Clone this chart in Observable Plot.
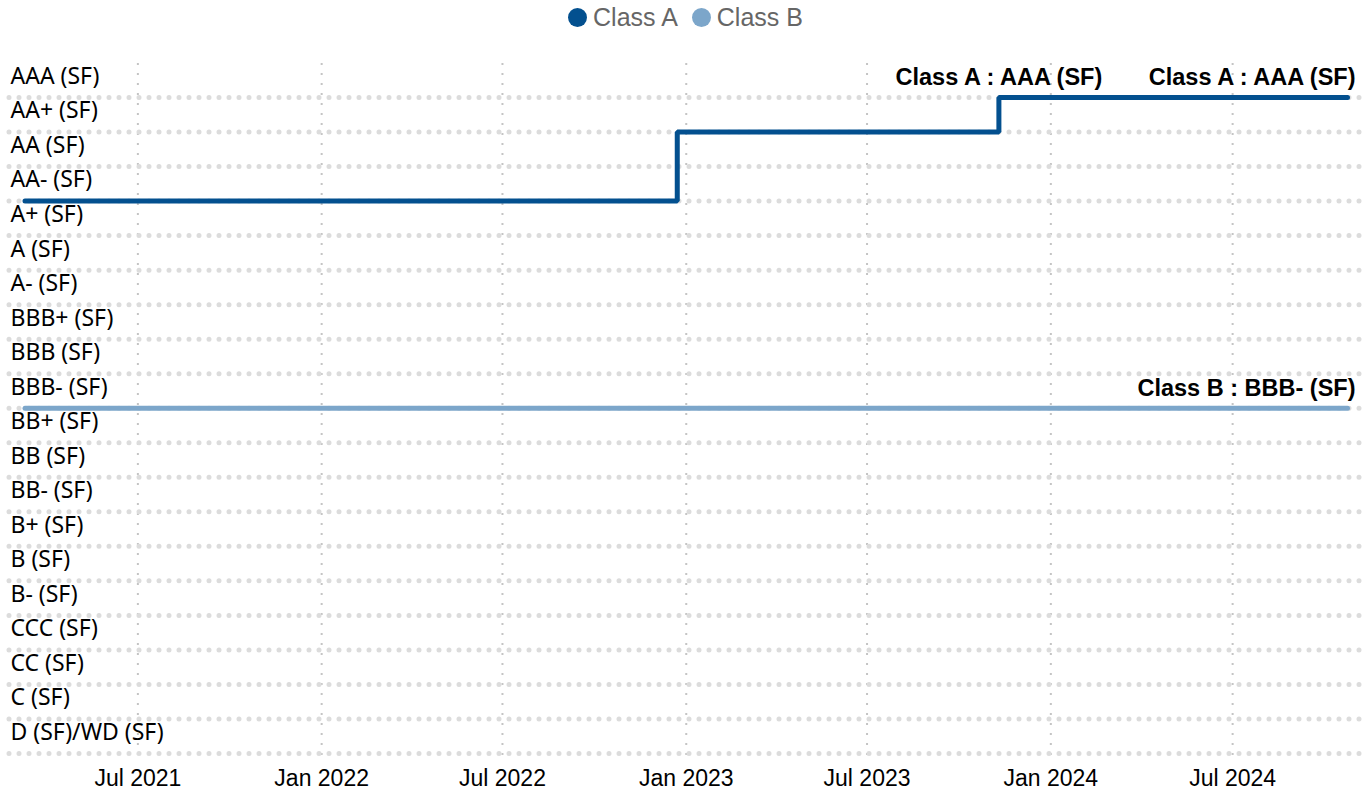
<!DOCTYPE html>
<html>
<head>
<meta charset="utf-8">
<script src="https://cdn.jsdelivr.net/npm/d3@7"></script>
<script src="https://cdn.jsdelivr.net/npm/@observablehq/plot@0.6"></script>
<style>
  html, body { margin: 0; padding: 0; background: #fff; overflow: hidden; }
  #legend { height: 35px; display: flex; justify-content: center; align-items: center;
    font-family: "Liberation Sans", Arial, sans-serif; font-size: 25px; color: #666; }
  #legend .item { display: flex; align-items: center; margin: 0 7px; }
  #legend .dot { width: 19px; height: 19px; border-radius: 50%; margin-right: 6px; display: inline-block; }
  #chart svg { display: block; max-width: none; }
</style>
</head>
<body>
<div id="legend"></div>
<div id="chart"></div>
<script>
// Rating scale (top to bottom)
const ratings = ["AAA (SF)", "AA+ (SF)", "AA (SF)", "AA- (SF)", "A+ (SF)", "A (SF)", "A- (SF)",
  "BBB+ (SF)", "BBB (SF)", "BBB- (SF)", "BB+ (SF)", "BB (SF)", "BB- (SF)", "B+ (SF)", "B (SF)",
  "B- (SF)", "CCC (SF)", "CC (SF)", "C (SF)", "D (SF)/WD (SF)"];

const seriesNames = ["Class A", "Class B"];
const seriesColors = ["#03508f", "#7ca6ca"];

// Class A rating history
const classADates = ["2021-03-10", "2022-12-23", "2023-11-10", "2024-10-24"];
const classARatings = ["AA- (SF)", "AA+ (SF)", "AAA (SF)", "AAA (SF)"];
// Class B rating history
const classBDates = ["2021-03-10", "2024-10-24"];
const classBRatings = ["BBB- (SF)", "BBB- (SF)"];

// X tick labels
const tickDates = ["2021-07-01", "2022-01-01", "2022-07-01", "2023-01-01", "2023-07-01", "2024-01-01", "2024-07-01"];

const parse = d3.utcParse("%Y-%m-%d");
const rows = [
  ...classADates.map((d, i) => ({series: "Class A", date: parse(d), rating: classARatings[i]})),
  ...classBDates.map((d, i) => ({series: "Class B", date: parse(d), rating: classBRatings[i]}))
];
const ticks = tickDates.map(parse);

// Data labels
const labelMid = [{date: parse(classADates[2]), rating: classARatings[2], text: "Class A : " + classARatings[2]}];
const labelEnd = [
  {date: parse(classADates[3]), rating: classARatings[3], text: "Class A : " + classARatings[3]},
  {date: parse(classBDates[1]), rating: classBRatings[1], text: "Class B : " + classBRatings[1]}
];

// Legend
const legend = document.getElementById("legend");
seriesNames.forEach((n, i) => {
  const it = document.createElement("span");
  it.className = "item";
  it.innerHTML = `<span class="dot" style="background:${seriesColors[i]}"></span>${n}`;
  legend.appendChild(it);
});

const boldFont = '"Liberation Sans", Arial, sans-serif';

const chart = Plot.plot({
  width: 1371,
  height: 757,
  marginLeft: 9,
  marginRight: 5,
  marginTop: 28,
  marginBottom: 34,
  style: {background: "#fff", color: "#000", maxWidth: "none"},
  x: {type: "utc", domain: [parse(classADates[0]), parse(classADates[3])], range: [24.5, 1347]},
  y: {type: "point", domain: ratings, range: [62, 718], padding: 0, round: false, axis: null},
  color: {domain: seriesNames, range: seriesColors},
  marks: [
    Plot.ruleX(ticks, {x: d => d, stroke: "#c4c4c4", strokeWidth: 2, strokeDasharray: "2 8"}),
    Plot.ruleY(ratings, {y: d => d, stroke: "#dcdcdc", strokeWidth: 5, strokeDasharray: "0 10", strokeLinecap: "round"}),
    Plot.text(ratings, {y: d => d, text: d => d, frameAnchor: "left", textAnchor: "start", dx: 1, dy: -21,
      fontSize: 23, fontFamily: '"Noto Sans", sans-serif', fill: "#000"}),
    Plot.axisX({ticks: ticks, tickFormat: d3.utcFormat("%b %Y"), tickSize: 0, tickPadding: 11,
      fontSize: 23, fontFamily: boldFont, fill: "#000"}),
    Plot.line(rows, {x: "date", y: "rating", z: "series", stroke: "series", strokeWidth: 5,
      curve: "step-after", strokeLinecap: "round", strokeLinejoin: "miter"}),
    Plot.text(labelMid, {x: "date", y: "rating", text: "text", textAnchor: "middle", dy: -20, dx: 0,
      fontSize: 23.5, fontWeight: "bold", fontFamily: boldFont, fill: "#000"}),
    Plot.text(labelEnd, {x: "date", y: "rating", text: "text", textAnchor: "end", dy: -20, dx: 8,
      fontSize: 23.5, fontWeight: "bold", fontFamily: boldFont, fill: "#000"})
  ]
});
document.getElementById("chart").appendChild(chart);
</script>
</body>
</html>
